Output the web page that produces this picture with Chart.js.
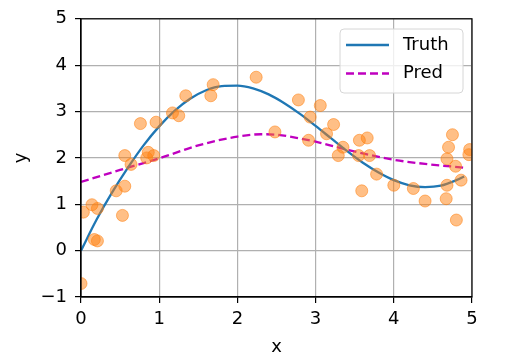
<!DOCTYPE html>
<html>
<head>
<meta charset="utf-8">
<script src="https://cdn.jsdelivr.net/npm/chart.js@4.4.0/dist/chart.umd.min.js"></script>
<style>
  html, body { margin: 0; padding: 0; background: #fff; }
  #wrap { width: 516px; height: 363px; }
</style>
</head>
<body>
<div id="wrap"><canvas id="chart" width="516" height="363"></canvas></div>
<script>
// training samples
const trainX = [0.0, 0.03, 0.14, 0.21, 0.17, 0.21, 0.45, 0.56, 0.53, 0.56, 0.64, 0.76, 0.96, 0.86, 0.84, 0.93,
  1.17, 1.25, 1.34, 1.66, 1.69, 2.24, 2.48, 2.78, 3.06, 2.93, 3.23, 2.91, 3.14, 3.35, 3.29, 3.56, 3.66,
  3.55, 3.69, 3.78, 3.59, 4.00, 4.25, 4.40, 4.68, 4.67, 4.80, 4.86, 4.79, 4.68, 4.75, 4.70, 4.96, 4.97];
const trainY = [-0.71, 0.83, 0.99, 0.91, 0.24, 0.21, 1.29, 1.39, 0.76, 2.05, 1.86, 2.74, 2.77, 2.12, 2.0, 2.05,
  2.97, 2.91, 3.34, 3.34, 3.58, 3.74, 2.56, 3.25, 3.13, 2.88, 2.72, 2.38, 2.52, 2.23, 2.05, 2.38, 2.43,
  2.05, 2.05, 1.65, 1.29, 1.41, 1.34, 1.07, 1.41, 1.12, 0.66, 1.52, 1.82, 1.98, 2.50, 2.23, 2.07, 2.18];

// truth curve
const truthX = [0, 0.2, 0.4, 0.6, 0.8, 1.0, 1.2, 1.4, 1.6, 1.8, 2.0, 2.2, 2.4, 2.6, 2.8, 3.0, 3.2, 3.4, 3.6, 3.8, 4.0, 4.2, 4.4, 4.6, 4.8, 4.9];
const truthY = [0, 0.67, 1.26, 1.79, 2.27, 2.68, 3.02, 3.28, 3.46, 3.55, 3.56, 3.50, 3.37, 3.18, 2.95, 2.69, 2.42, 2.15, 1.90, 1.69, 1.52, 1.41, 1.37, 1.40, 1.52, 1.60];

// prediction curve
const predX = [0, 0.5, 1.0, 1.5, 2.0, 2.3, 2.5, 2.8, 3.0, 3.3, 3.6, 4.0, 4.4, 4.9];
const predY = [1.48, 1.74, 1.99, 2.27, 2.46, 2.51, 2.50, 2.42, 2.35, 2.22, 2.10, 1.96, 1.87, 1.79];

const xTicks = [0, 1, 2, 3, 4, 5];
const yTicks = [-1, 0, 1, 2, 3, 4, 5];

const FONT = "'DejaVu Sans', sans-serif";
const FS = 18;

function pts(xs, ys) {
  return xs.map((x, i) => ({ x: x, y: ys[i] }));
}

function fmt(v) {
  return v < 0 ? "\u2212" + Math.abs(v) : String(v);
}

// top/right spines and the legend box
const framePlugin = {
  id: "frame",
  afterDraw(chart) {
    const { ctx, chartArea: a } = chart;
    ctx.save();
    ctx.strokeStyle = "#000";
    ctx.lineWidth = 1.2;
    ctx.strokeRect(a.left, a.top, a.right - a.left, a.bottom - a.top);

    const bx = 340, by = 29, bw = 123, bh = 64, r = 4;
    ctx.beginPath();
    ctx.roundRect(bx, by, bw, bh, r);
    ctx.fillStyle = "rgba(255,255,255,0.8)";
    ctx.fill();
    ctx.strokeStyle = "#d6d6d6";
    ctx.lineWidth = 1;
    ctx.stroke();

    const items = chart.data.datasets.filter((d) => d.label);
    items.forEach((d, i) => {
      const y = 45 + i * 28.5;
      ctx.beginPath();
      ctx.strokeStyle = d.borderColor;
      ctx.lineWidth = d.borderWidth;
      ctx.setLineDash(d.borderDash || []);
      ctx.moveTo(346, y);
      ctx.lineTo(389, y);
      ctx.stroke();
      ctx.setLineDash([]);
      ctx.fillStyle = "#000";
      ctx.font = FS + "px " + FONT;
      ctx.textBaseline = "middle";
      ctx.fillText(d.label, 403, y);
    });
    ctx.restore();
  },
};

new Chart(document.getElementById("chart"), {
  type: "scatter",
  data: {
    datasets: [
      {
        data: pts(trainX, trainY),
        pointRadius: 6,
        pointBackgroundColor: "rgba(255,127,14,0.5)",
        pointBorderColor: "rgba(255,127,14,0.55)",
        pointBorderWidth: 1,
        showLine: false,
      },
      {
        label: "Truth",
        data: pts(truthX, truthY),
        showLine: true,
        borderColor: "#1f77b4",
        borderWidth: 2.3,
        pointRadius: 0,
        cubicInterpolationMode: "monotone",
      },
      {
        label: "Pred",
        data: pts(predX, predY),
        showLine: true,
        borderColor: "#bf00bf",
        borderWidth: 2.3,
        borderDash: [8, 4],
        pointRadius: 0,
        cubicInterpolationMode: "monotone",
      },
    ],
  },
  options: {
    responsive: false,
    animation: false,
    layout: { padding: { left: 0, top: 18, right: 44, bottom: 0 } },
    plugins: { legend: { display: false }, tooltip: { enabled: false } },
    scales: {
      x: {
        type: "linear",
        min: 0,
        max: 5,
        afterBuildTicks: (s) => { s.ticks = xTicks.map((v) => ({ value: v })); },
        afterFit: (s) => { s.height = 66; },
        grid: { color: "#b0b0b0", lineWidth: 1.2, tickLength: 6, tickColor: "#000" },
        border: { color: "#000", width: 1.2 },
        ticks: { color: "#000", font: { family: FONT, size: FS }, padding: 6, callback: fmt, maxRotation: 0 },
        title: { display: true, text: "x", color: "#000", font: { family: FONT, size: FS }, padding: { top: 2, bottom: 5 } },
      },
      y: {
        type: "linear",
        min: -1,
        max: 5,
        afterBuildTicks: (s) => { s.ticks = yTicks.map((v) => ({ value: v })); },
        afterFit: (s) => { s.width = 81; },
        grid: { color: "#b0b0b0", lineWidth: 1.2, tickLength: 6, tickColor: "#000" },
        border: { color: "#000", width: 1.2 },
        ticks: { color: "#000", font: { family: FONT, size: FS }, padding: 8, callback: fmt },
        title: { display: true, text: "y", color: "#000", font: { family: FONT, size: FS }, padding: { top: 11, bottom: 0 } },
      },
    },
  },
  plugins: [framePlugin],
});
</script>
</body>
</html>
